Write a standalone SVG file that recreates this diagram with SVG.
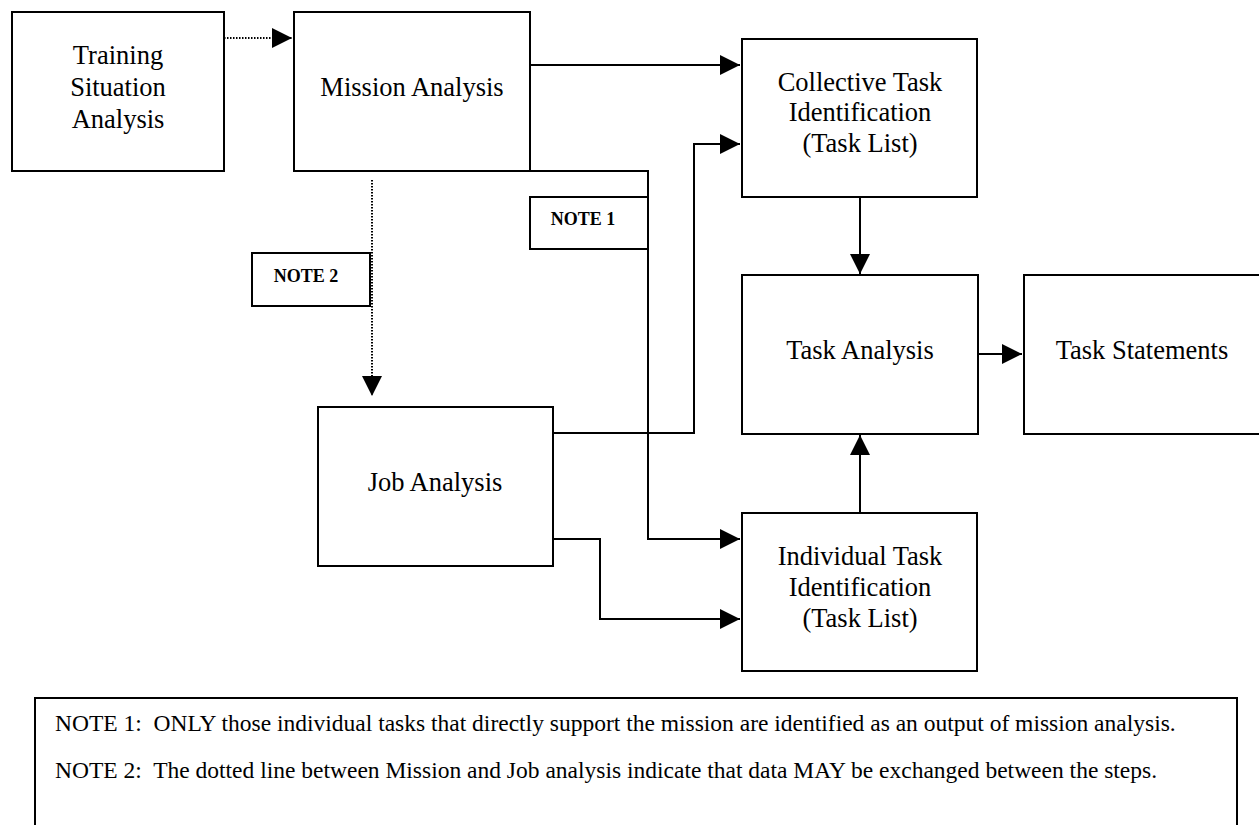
<svg xmlns="http://www.w3.org/2000/svg" width="1259" height="825" viewBox="0 0 1259 825">
<style>
.box{fill:#fff;stroke:#000;stroke-width:2}
.t{font-family:"Liberation Serif","Times New Roman",serif;font-size:26.5px;fill:#000;text-anchor:middle}
.nb{font-family:"Liberation Serif","Times New Roman",serif;font-size:18px;font-weight:bold;fill:#000;text-anchor:middle}
.nt{font-family:"Liberation Serif","Times New Roman",serif;font-size:23.5px;fill:#000}
.c{fill:none;stroke:#000;stroke-width:2}
.d{fill:none;stroke:#000;stroke-width:2;stroke-dasharray:1.5 1.5}
</style>
<defs>
<marker id="ah" viewBox="0 0 20 20" refX="20" refY="10" markerWidth="20" markerHeight="20" markerUnits="userSpaceOnUse" orient="auto">
<path d="M0,0 L20,10 L0,20 Z" fill="#000"/>
</marker>
</defs>
<g id="connectors">
<path class="d" d="M224,38 H292" marker-end="url(#ah)"/>
<path class="c" d="M530,65 H740" marker-end="url(#ah)"/>
<path class="c" d="M530,171 H648 V539 H740" marker-end="url(#ah)"/>
<path class="d" d="M372,180 V396" marker-end="url(#ah)"/>
<path class="c" d="M553,433 H694 V144 H740" marker-end="url(#ah)"/>
<path class="c" d="M553,539 H600 V619 H740" marker-end="url(#ah)"/>
<path class="c" d="M860,197 V274" marker-end="url(#ah)"/>
<path class="c" d="M860,513 V435" marker-end="url(#ah)"/>
<path class="c" d="M978,354 H1022" marker-end="url(#ah)"/>
</g>
<g id="training">
<rect class="box" x="12" y="12" width="212" height="159"/>
<text class="t" x="118" y="64">Training</text>
<text class="t" x="118" y="96">Situation</text>
<text class="t" x="118" y="128">Analysis</text>
</g>
<g id="mission">
<rect class="box" x="294" y="12" width="236" height="159"/>
<text class="t" x="412" y="96">Mission Analysis</text>
</g>
<g id="collective">
<rect class="box" x="742" y="39" width="235" height="158"/>
<text class="t" x="860" y="91">Collective Task</text>
<text class="t" x="860" y="121">Identification</text>
<text class="t" x="860" y="152">(Task List)</text>
</g>
<g id="note1">
<rect class="box" x="530" y="197" width="118" height="52"/>
<text class="nb" x="583" y="225">NOTE 1</text>
</g>
<g id="note2">
<rect class="box" x="252" y="253" width="118" height="53"/>
<text class="nb" x="306" y="282">NOTE 2</text>
</g>
<g id="taskanalysis">
<rect class="box" x="742" y="275" width="236" height="159"/>
<text class="t" x="860" y="359">Task Analysis</text>
</g>
<g id="taskstatements">
<rect class="box" x="1024" y="275" width="250" height="159"/>
<text class="t" x="1142" y="359">Task Statements</text>
</g>
<g id="job">
<rect class="box" x="318" y="407" width="235" height="159"/>
<text class="t" x="435" y="491">Job Analysis</text>
</g>
<g id="individual">
<rect class="box" x="742" y="513" width="235" height="158"/>
<text class="t" x="860" y="565">Individual Task</text>
<text class="t" x="860" y="596">Identification</text>
<text class="t" x="860" y="627">(Task List)</text>
</g>
<g id="notes">
<rect class="box" x="35" y="698" width="1202" height="140"/>
<text class="nt" x="55" y="731" xml:space="preserve">NOTE 1:  ONLY those individual tasks that directly support the mission are identified as an output of mission analysis.</text>
<text class="nt" x="55" y="778" xml:space="preserve">NOTE 2:  The dotted line between Mission and Job analysis indicate that data MAY be exchanged between the steps.</text>
</g>
</svg>
